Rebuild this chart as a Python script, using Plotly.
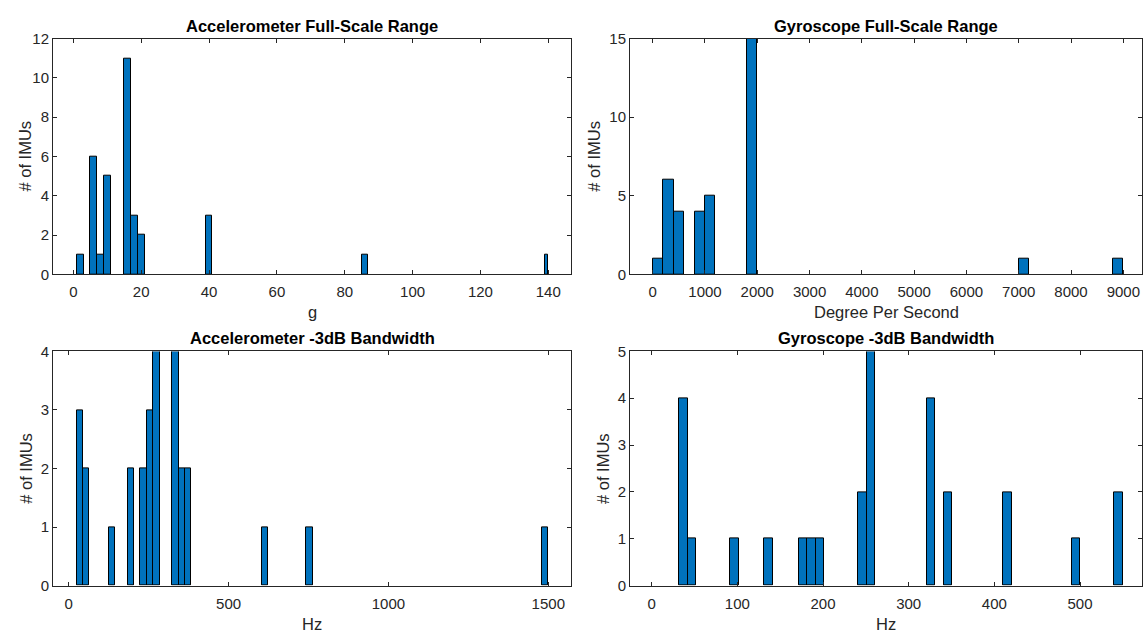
import plotly.graph_objects as go

# ---------------- data ----------------
# Accelerometer full-scale range (g)
acc_fs_lo = [1, 5, 7, 9, 15, 17, 19, 39, 85, 139]
acc_fs_hi = [3, 7, 9, 11, 17, 19, 21, 41, 87, 140]
acc_fs_counts = [1, 6, 1, 5, 11, 3, 2, 3, 1, 1]

# Gyroscope full-scale range (deg/s)
gyro_fs_lo = [0, 200, 400, 800, 1000, 1800, 7000, 8800]
gyro_fs_hi = [200, 400, 600, 1000, 1200, 2000, 7200, 9000]
gyro_fs_counts = [1, 6, 4, 4, 5, 15, 1, 1]

# Accelerometer -3dB bandwidth (Hz)
acc_bw_lo = [25.0, 44.9, 124.7, 184.5, 224.3, 244.3, 264.2, 324.0, 343.9, 363.8, 603.0, 742.6, 1480.1]
acc_bw_hi = [44.9, 64.9, 144.7, 204.4, 244.3, 264.2, 284.1, 343.9, 363.8, 383.7, 623.0, 762.5, 1500.0]
acc_bw_counts = [3, 2, 1, 2, 2, 3, 4, 4, 2, 2, 1, 1, 1]

# Gyroscope -3dB bandwidth (Hz)
gyro_bw_lo = [32.0, 42.0, 91.8, 131.6, 171.5, 181.4, 191.4, 241.2, 251.2, 320.9, 340.8, 410.5, 490.2, 540.0]
gyro_bw_hi = [42.0, 51.9, 101.7, 141.6, 181.4, 191.4, 201.3, 251.2, 261.2, 330.8, 350.8, 420.5, 500.2, 550.0]
gyro_bw_counts = [4, 1, 1, 1, 1, 1, 1, 2, 5, 4, 2, 2, 1, 2]

titles = ["Accelerometer Full-Scale Range", "Gyroscope Full-Scale Range",
          "Accelerometer -3dB Bandwidth", "Gyroscope -3dB Bandwidth"]
xlabels = ["g", "Degree Per Second", "Hz", "Hz"]
ylabel = "# of IMUs"

x_ranges = [[-6.0, 146.7], [-434, 9363], [-49.1, 1571], [-25.3, 572.7]]
y_ranges = [[0, 12], [0, 15], [0, 4], [0, 5]]
x_ticks = [[0, 20, 40, 60, 80, 100, 120, 140],
           [0, 1000, 2000, 3000, 4000, 5000, 6000, 7000, 8000, 9000],
           [0, 500, 1000, 1500],
           [0, 100, 200, 300, 400, 500]]
y_ticks = [[0, 2, 4, 6, 8, 10, 12], [0, 5, 10, 15], [0, 1, 2, 3, 4], [0, 1, 2, 3, 4, 5]]

series = [(acc_fs_lo, acc_fs_hi, acc_fs_counts),
          (gyro_fs_lo, gyro_fs_hi, gyro_fs_counts),
          (acc_bw_lo, acc_bw_hi, acc_bw_counts),
          (gyro_bw_lo, gyro_bw_hi, gyro_bw_counts)]

# ---------------- layout geometry (pixels) ----------------
W, H = 1143, 642
px_x = [(53, 571), (630, 1142.3), (53, 571), (630, 1142.3)]
px_y = [(30.5, 272.5), (30.5, 272.5), (351.7, 592.3), (351.7, 592.3)]
ylab_x = [25, 594.2, 25.3, 602.5]

FONT = "Arial, 'Liberation Sans', Helvetica, sans-serif"
AX = "#262626"
BAR = "#0072BD"
TICK_SIZE = 15
LABEL_SIZE = 16.5

fig = go.Figure()
layout = dict(
    width=W, height=H,
    margin=dict(l=0, r=0, t=0, b=0),
    paper_bgcolor="white", plot_bgcolor="white",
    showlegend=False,
    font=dict(family=FONT, size=TICK_SIZE, color=AX),
    bargap=0,
)

annotations = []
for i, ((lo, hi, cnt), ttl, xl) in enumerate(zip(series, titles, xlabels)):
    n = i + 1
    xa = "x" if n == 1 else f"x{n}"
    ya = "y" if n == 1 else f"y{n}"
    centers = [(a + b) / 2 for a, b in zip(lo, hi)]
    widths = [b - a for a, b in zip(lo, hi)]
    fig.add_trace(go.Bar(
        x=centers, y=cnt, width=widths, xaxis=xa, yaxis=ya,
        marker=dict(color=BAR, line=dict(color="black", width=1)),
        hoverinfo="x+y",
    ))
    x0, x1 = px_x[i]
    y0, y1 = px_y[i]
    axis_common = dict(
        showline=True, linecolor=AX, linewidth=1, mirror="allticks",
        ticks="inside", ticklen=4, tickwidth=1, tickcolor=AX,
        showgrid=False, zeroline=False,
        tickfont=dict(family=FONT, size=TICK_SIZE, color=AX),
    )
    layout["xaxis" if n == 1 else f"xaxis{n}"] = dict(
        axis_common,
        domain=[x0 / W, x1 / W], anchor=ya,
        range=x_ranges[i], tickvals=x_ticks[i],
        ticklabelstandoff=4,
    )
    layout["yaxis" if n == 1 else f"yaxis{n}"] = dict(
        axis_common,
        domain=[1 - y1 / H, 1 - y0 / H], anchor=xa,
        range=y_ranges[i], tickvals=y_ticks[i],
    )
    # title
    annotations.append(dict(
        text=f"<b>{ttl}</b>", x=(x0 + x1) / 2 / W, y=1 - (y0 - 13.5) / H,
        xref="paper", yref="paper", xanchor="center", yanchor="middle",
        showarrow=False, font=dict(family=FONT, size=LABEL_SIZE, color="black"),
    ))
    # x label
    annotations.append(dict(
        text=xl, x=(x0 + x1) / 2 / W, y=1 - (y1 + 39) / H,
        xref="paper", yref="paper", xanchor="center", yanchor="middle",
        showarrow=False, font=dict(family=FONT, size=LABEL_SIZE, color=AX),
    ))
    # y label
    annotations.append(dict(
        text=ylabel, x=ylab_x[i] / W, y=1 - (y0 + y1) / 2 / H, textangle=-90,
        xref="paper", yref="paper", xanchor="center", yanchor="middle",
        showarrow=False, font=dict(family=FONT, size=LABEL_SIZE, color=AX),
    ))

layout["annotations"] = annotations
fig.update_layout(**layout)
fig.write_html("out.html")
